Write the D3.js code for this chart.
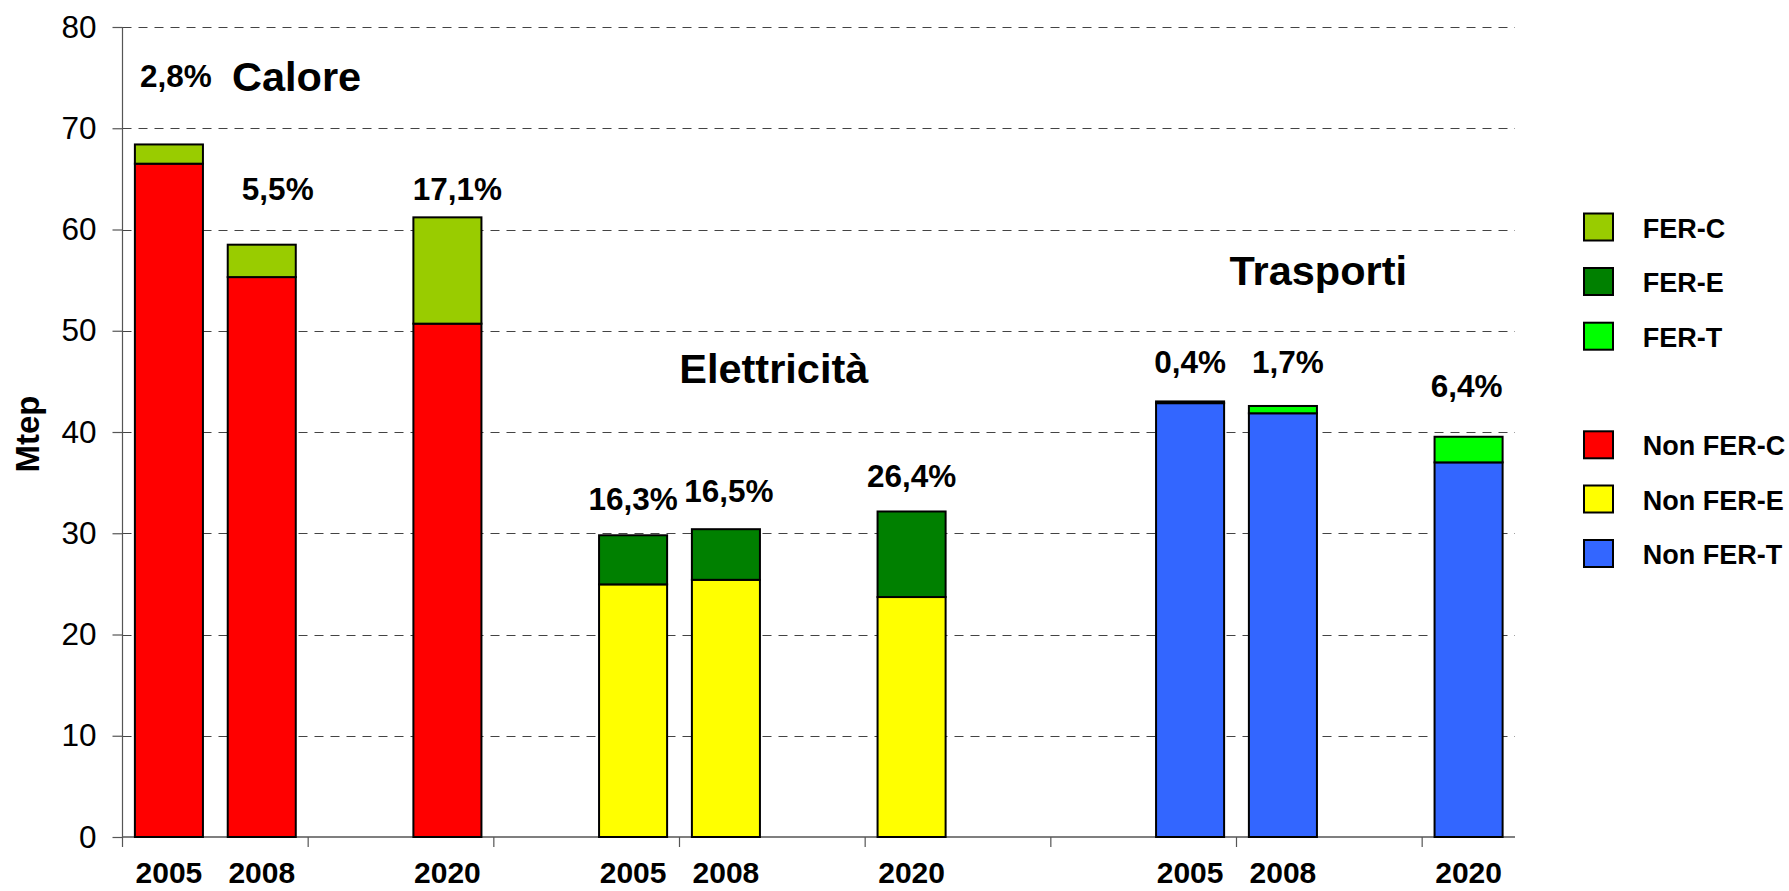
<!DOCTYPE html>
<html>
<head>
<meta charset="utf-8">
<script src="https://cdn.jsdelivr.net/npm/d3@7"></script>
<style>
  html, body { margin: 0; padding: 0; background: #fff; }
  svg { display: block; font-family: "Liberation Sans", Arial, Helvetica, sans-serif; }
</style>
</head>
<body>
<svg id="chart" width="1789" height="891"></svg>
<script>
// ---- data ----
const categories = ["2005","2008","","2020","","2005","2008","","2020","","","2005","2008","","2020"];
const sectors    = ["C","C","","C","","E","E","","E","","","T","T","","T"];
const nonFerValues = [66.5, 55.3, null, 50.7, null, 24.95, 25.4, null, 23.7, null, null, 42.85, 41.85, null, 37.0];
const ferValues    = [1.9, 3.2, null, 10.5, null, 4.85, 5.0, null, 8.45, null, null, 0.17, 0.72, null, 2.53];
const shareLabels  = ["2,8%","5,5%",null,"17,1%",null,"16,3%","16,5%",null,"26,4%",null,null,"0,4%","1,7%",null,"6,4%"];
const sectorTitles = ["Calore","Elettricità","Trasporti"];
const yTicks = [0,10,20,30,40,50,60,70,80];
const legendLabels = ["FER-C","FER-E","FER-T","Non FER-C","Non FER-E","Non FER-T"];
const legendKeys   = ["FER-C","FER-E","FER-T","NON-C","NON-E","NON-T"];

// ---- styles / layout ----
const colors = {
  "FER-C": "#99CC00", "FER-E": "#008000", "FER-T": "#00FF00",
  "NON-C": "#FF0000", "NON-E": "#FFFF00", "NON-T": "#3366FF"
};
// share label anchors: y in data units (baseline), dx in px from bar centre
const shareLayout = {
  0: {y: 74.1, dx: 7}, 1: {y: 62.9, dx: 16}, 3: {y: 62.9, dx: 10},
  5: {y: 32.3, dx: 0}, 6: {y: 33.1, dx: 3}, 8: {y: 34.6, dx: 0},
  11: {y: 45.8, dx: 0}, 12: {y: 45.8, dx: 5}, 14: {y: 43.5, dx: -2}
};
const titleLayout = [ {x: 296.6, y: 73.7}, {x: 773.8, y: 44.8}, {x: 1318.3, y: 54.5} ];

const svg = d3.select("#chart");
const plotLeft = 122.5, plotRight = 1515, plotTop = 27, plotBottom = 837;

const x = d3.scaleBand()
  .domain(d3.range(categories.length))
  .range([plotLeft, plotRight])
  .paddingInner(0.267)
  .paddingOuter(0.1335);

const y = d3.scaleLinear().domain([0, 80]).range([plotBottom, plotTop]);

// gridlines
svg.append("g")
  .selectAll("line")
  .data(yTicks.filter(d => d > 0))
  .join("line")
  .attr("x1", plotLeft).attr("x2", plotRight)
  .attr("y1", d => Math.round(y(d)) + 0.5).attr("y2", d => Math.round(y(d)) + 0.5)
  .attr("stroke", "#444").attr("stroke-width", 1.2)
  .attr("stroke-dasharray", "9,7");

// y axis
const yAxis = d3.axisLeft(y).tickValues(yTicks).tickSize(10).tickPadding(16).tickFormat(d3.format("d"));
const gy = svg.append("g").attr("transform", `translate(${plotLeft},0)`).call(yAxis);
gy.select(".domain").attr("stroke", "#555").attr("stroke-width", 1.2).attr("d", `M-0,${plotTop}V${plotBottom}`);
gy.selectAll(".tick line").attr("stroke", "#555").attr("stroke-width", 1.2);
gy.selectAll(".tick text")
  .attr("font-size", 31.5).attr("fill", "#000")
  .attr("font-family", '"Liberation Sans", Arial, sans-serif');

// x axis: ticks every 2 categories at band boundaries
const step = x.step();
const boundaryTicks = d3.range(0, categories.length + 1, 2).map(i => plotLeft + i * step);
svg.append("line")
  .attr("x1", plotLeft).attr("x2", plotRight)
  .attr("y1", plotBottom).attr("y2", plotBottom)
  .attr("stroke", "#555").attr("stroke-width", 1.5);
svg.append("g").selectAll("line")
  .data(boundaryTicks.filter(v => v < plotRight - 1))
  .join("line")
  .attr("x1", d => d).attr("x2", d => d)
  .attr("y1", plotBottom).attr("y2", plotBottom + 10)
  .attr("stroke", "#555").attr("stroke-width", 1.2);

svg.append("g").selectAll("text")
  .data(categories.map((c, i) => ({c, i})).filter(d => d.c !== ""))
  .join("text")
  .attr("x", d => x(d.i) + x.bandwidth() / 2)
  .attr("y", plotBottom + 46)
  .attr("text-anchor", "middle")
  .attr("font-size", 30).attr("font-weight", "bold")
  .text(d => d.c);

// bars
const barData = categories.map((c, i) => ({i, sector: sectors[i], non: nonFerValues[i], fer: ferValues[i]}))
  .filter(d => d.non != null);

const bars = svg.append("g");
bars.selectAll("rect.non")
  .data(barData).join("rect").attr("class", "non")
  .attr("x", d => x(d.i)).attr("width", x.bandwidth())
  .attr("y", d => y(d.non)).attr("height", d => y(0) - y(d.non))
  .attr("fill", d => colors["NON-" + d.sector])
  .attr("stroke", "#000").attr("stroke-width", 2);
bars.selectAll("rect.fer")
  .data(barData).join("rect").attr("class", "fer")
  .attr("x", d => x(d.i)).attr("width", x.bandwidth())
  .attr("y", d => y(d.non + d.fer)).attr("height", d => y(d.non) - y(d.non + d.fer))
  .attr("fill", d => colors["FER-" + d.sector])
  .attr("stroke", "#000").attr("stroke-width", 2);

// share labels
svg.append("g").selectAll("text")
  .data(shareLabels.map((t, i) => ({t, i})).filter(d => d.t))
  .join("text")
  .attr("x", d => x(d.i) + x.bandwidth() / 2 + shareLayout[d.i].dx)
  .attr("y", d => y(shareLayout[d.i].y))
  .attr("text-anchor", "middle")
  .attr("font-size", 31.5).attr("font-weight", "bold")
  .text(d => d.t);

// sector titles
svg.append("g").selectAll("text")
  .data(sectorTitles.map((t, i) => ({t, i})))
  .join("text")
  .attr("x", d => titleLayout[d.i].x)
  .attr("y", d => y(titleLayout[d.i].y))
  .attr("text-anchor", "middle")
  .attr("font-size", 41.5).attr("font-weight", "bold")
  .text(d => d.t);

// y axis title
svg.append("text")
  .attr("transform", "translate(38.5,434) rotate(-90)")
  .attr("text-anchor", "middle")
  .attr("font-size", 33).attr("font-weight", "bold")
  .text("Mtep");

// legend
const legendY = [227.5, 282, 336.7, 445.3, 499.5, 554];
const lg = svg.append("g");
lg.selectAll("rect")
  .data(legendKeys).join("rect")
  .attr("x", 1584).attr("y", (d, i) => legendY[i] - 14)
  .attr("width", 29).attr("height", 27)
  .attr("fill", d => colors[d]).attr("stroke", "#000").attr("stroke-width", 2);
lg.selectAll("text")
  .data(legendLabels).join("text")
  .attr("x", 1642.7).attr("y", (d, i) => legendY[i] + 10)
  .attr("font-size", 27).attr("font-weight", "bold")
  .text(d => d);
</script>
</body>
</html>
